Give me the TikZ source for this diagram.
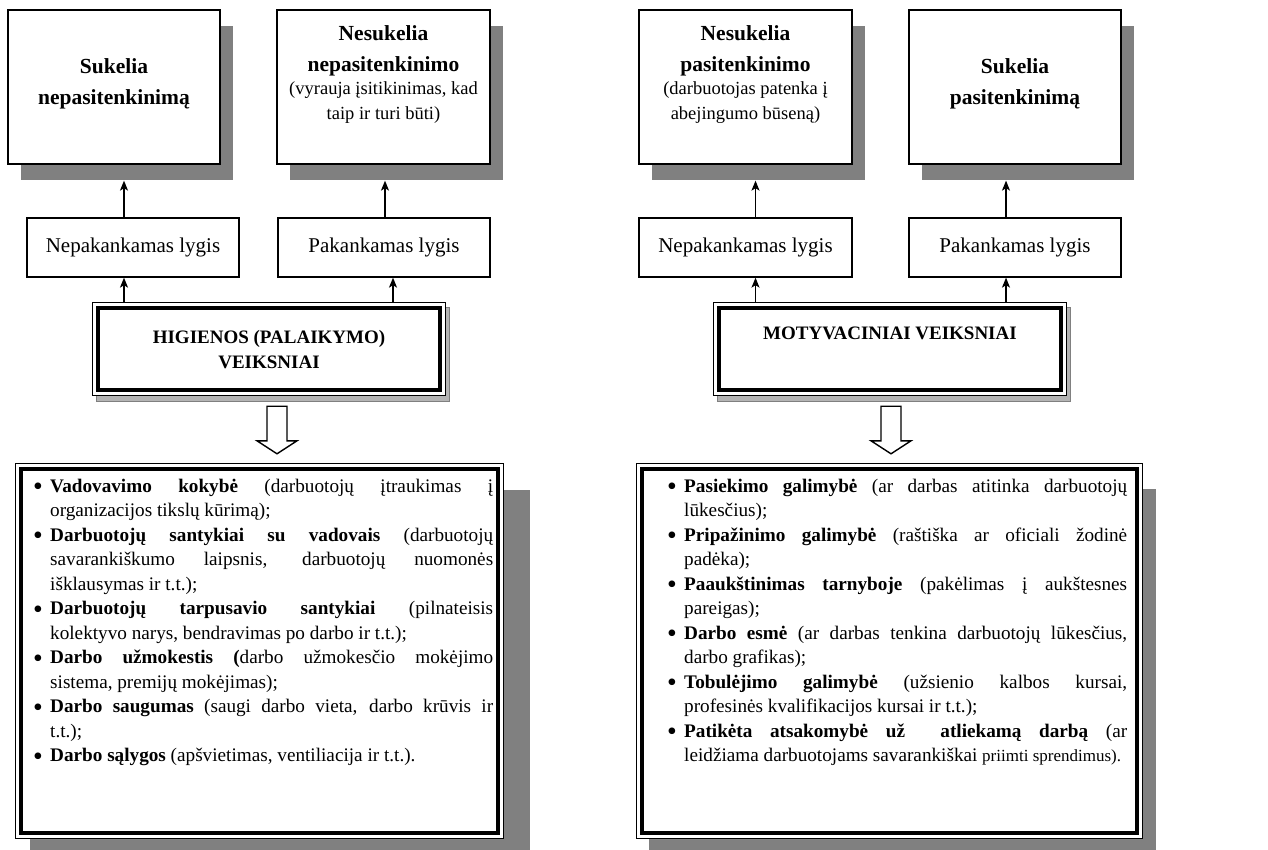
\documentclass[tikz,border=0pt]{standalone}
\usepackage{graphicx}
\usepackage{fontspec}
\setmainfont{Liberation Serif}
\usetikzlibrary{calc,arrows.meta,shadows,backgrounds}

\definecolor{shadowgray}{HTML}{808080}
\definecolor{lightshadow}{HTML}{B4B4B4}

% list helpers: bullet column, hanging indent, justified line
\newcommand\listbullet{\makebox[17pt][l]{\raisebox{-3.6pt}{\scalebox{1.45}{\textbullet}}}}
\newcommand\listindent{\hspace*{17pt}}
\newcommand\justline[1]{\makebox[443pt][s]{#1}}

% thin outer line + thick inner line
\newcommand\thickthin[1]{%
  \draw[line width=1pt] (#1.north west) rectangle (#1.south east);
  \draw[line width=4.5pt] ($(#1.north west)+(5,5)$) rectangle ($(#1.south east)+(-5,-5)$);
}

\tikzset{
  resultbox/.style={draw, line width=1.3pt, fill=white, minimum width=212pt,
    minimum height=154pt, inner sep=0pt,
    drop shadow={shadow xshift=12.5pt, shadow yshift=-16pt, fill=shadowgray, opacity=1}},
  levelbox/.style={draw, line width=1.3pt, fill=white, minimum width=212pt,
    minimum height=59pt, inner sep=0pt, font=\fontsize{21}{25}\selectfont},
  factorbox/.style={fill=white, minimum width=352pt, minimum height=92pt, inner sep=0pt},
  listbox/.style={fill=white, minimum height=374pt, inner sep=0pt},
  headtext/.style={align=center, inner sep=0pt, anchor=north,
    font=\fontsize{21.5}{31}\selectfont\bfseries},
  notetext/.style={align=center, inner sep=0pt, anchor=north,
    font=\fontsize{18.5}{25}\selectfont},
  factortext/.style={align=center, inner sep=0pt, anchor=north,
    font=\fontsize{19}{25}\selectfont\bfseries},
  listtext/.style={anchor=base west, inner sep=0pt},
  arr/.style={-{Stealth[length=10pt,width=8pt,inset=2.5pt]}, line width=1.3pt},
  hollow/.style={draw, fill=white, line width=1.4pt, line join=miter},
}

\begin{document}
\begin{tikzpicture}[x=1pt,y=-1pt]
\begin{scope}[on background layer]
  \fill[white] (0,0) rectangle (1268,850);
\end{scope}
\useasboundingbox (0,0) rectangle (1268,850);

% ---- result boxes (top row) ----
\node[resultbox] (B1) at (114,87) {};
\node[resultbox, minimum width=213pt] (B2) at (383.5,87) {};
\node[resultbox, minimum width=213pt] (B3) at (745.5,87) {};
\node[resultbox] (B4) at (1015,87) {};

\node[headtext] (B1h) at ($(B1.north)+(0,49)$) {Sukelia\\nepasitenkinimą};
\node[headtext] (B2h) at ($(B2.north)+(0,16)$) {Nesukelia\\nepasitenkinimo};
\node[notetext] (B2n) at ($(B2.north)+(0,72)$) {(vyrauja įsitikinimas, kad\\taip ir turi būti)};
\node[headtext] (B3h) at ($(B3.north)+(0,16)$) {Nesukelia\\pasitenkinimo};
\node[notetext] (B3n) at ($(B3.north)+(0,72)$) {(darbuotojas patenka į\\abejingumo būseną)};
\node[headtext] (B4h) at ($(B4.north)+(0,49)$) {Sukelia\\pasitenkinimą};

% ---- level boxes ----
\node[levelbox] (M1) at (133,247.5) {Nepakankamas lygis};
\node[levelbox] (M2) at (384,247.5) {Pakankamas lygis};
\node[levelbox, minimum width=213pt] (M3) at (745.5,247.5) {Nepakankamas lygis};
\node[levelbox] (M4) at (1015,247.5) {Pakankamas lygis};

% ---- factor groups ----
\node[factorbox] (H) at (269,349) {};
\node[factorbox] (M) at (890,349) {};
\thickthin{H}
\thickthin{M}
\node[factortext] (Ht) at ($(H.north)+(0,27)$) {HIGIENOS (PALAIKYMO)\\VEIKSNIAI};
\node[factortext] (Mt) at ($(M.north)+(0,24)$) {MOTYVACINIAI VEIKSNIAI};

% ---- factor lists ----
\node[listbox, minimum width=487pt] (L) at (259.5,651) {};
\node[listbox, minimum width=505pt] (R) at (889.5,651) {};
\thickthin{L}
\thickthin{R}

\node[listtext] (Lt) at (33,492) {\parbox[t]{460pt}{\fontsize{19.2}{24.5}\selectfont
\listbullet\justline{\textbf{Vadovavimo kokybė} (darbuotojų įtraukimas į}\\
\listindent organizacijos tikslų kūrimą);\\
\listbullet\justline{\textbf{Darbuotojų santykiai su vadovais} (darbuotojų}\\
\listindent\justline{savarankiškumo laipsnis, darbuotojų nuomonės}\\
\listindent išklausymas ir t.t.);\\
\listbullet\justline{\textbf{Darbuotojų tarpusavio santykiai} (pilnateisis}\\
\listindent kolektyvo narys, bendravimas po darbo ir t.t.);\\
\listbullet\justline{\textbf{Darbo užmokestis (}darbo užmokesčio mokėjimo}\\
\listindent sistema, premijų mokėjimas);\\
\listbullet\justline{\textbf{Darbo saugumas} (saugi darbo vieta, darbo krūvis ir}\\
\listindent t.t.);\\
\listbullet\textbf{Darbo sąlygos} (apšvietimas, ventiliacija ir t.t.).}};

\node[listtext] (Rt) at (667,492) {\parbox[t]{460pt}{\fontsize{19.2}{24.5}\selectfont
\listbullet\justline{\textbf{Pasiekimo galimybė} (ar darbas atitinka darbuotojų}\\
\listindent lūkesčius);\\
\listbullet\justline{\textbf{Pripažinimo galimybė} (raštiška ar oficiali žodinė}\\
\listindent padėka);\\
\listbullet\justline{\textbf{Paaukštinimas tarnyboje} (pakėlimas į aukštesnes}\\
\listindent pareigas);\\
\listbullet\justline{\textbf{Darbo esmė} (ar darbas tenkina darbuotojų lūkesčius,}\\
\listindent darbo grafikas);\\
\listbullet\justline{\textbf{Tobulėjimo galimybė} (užsienio kalbos kursai,}\\
\listindent profesinės kvalifikacijos kursai ir t.t.);\\
\listbullet\justline{\textbf{Patikėta atsakomybė už\ \ atliekamą darbą} (ar}\\
\listindent leidžiama darbuotojams savarankiškai {\fontsize{17}{24}\selectfont priimti sprendimus).}}};

% ---- shadows behind the framed boxes ----
\begin{scope}[on background layer]
  \fill[lightshadow] ($(H.north west)+(4,5)$) rectangle ($(H.south east)+(4,6)$);
  \draw[shadowgray, line width=1.2pt] ($(H.north west)+(4,5)$) rectangle ($(H.south east)+(4,6)$);
  \fill[lightshadow] ($(M.north west)+(4,5)$) rectangle ($(M.south east)+(4,6)$);
  \draw[shadowgray, line width=1.2pt] ($(M.north west)+(4,5)$) rectangle ($(M.south east)+(4,6)$);
  \fill[shadowgray] ($(L.north west)+(14,26)$) rectangle ($(L.south east)+(27,40)$);
  \fill[shadowgray] ($(R.north west)+(12,25)$) rectangle ($(R.south east)+(14,40)$);
\end{scope}

% ---- connectors: factor group -> level -> result ----
\coordinate (x1) at ($(M1.south)+(-9,0)$);
\coordinate (x2) at ($(M2.south)+(9,0)$);
\coordinate (x2b) at ($(M2.north)+(1,0)$);
\coordinate (x3) at ($(M3.south)+(10,0)$);
\coordinate (x4) at ($(M4.south)+(-9,0)$);

\draw[arr] (x1 |- H.north) -- (x1);
\draw[arr] (x2 |- H.north) -- (x2);
\draw[arr] (x3 |- M.north) -- (x3);
\draw[arr] (x4 |- M.north) -- (x4);

\draw[arr] (x1 |- M1.north) -- ($(x1 |- B1.south)+(0,16)$);
\draw[arr] (x2b) -- ($(x2b |- B2.south)+(0,16)$);
\draw[arr] (x3 |- M3.north) -- ($(x3 |- B3.south)+(0,16)$);
\draw[arr] (x4 |- M4.north) -- ($(x4 |- B4.south)+(0,16)$);

% ---- hollow arrows: factor group -> its list ----
\coordinate (hs) at ($(H.south)+(8,11)$);
\coordinate (ht) at ($(hs |- L.north)+(0,-10)$);
\draw[hollow] ($(hs)+(-10,0)$) -- ($(hs)+(10,0)$) -- ($(ht)+(10,-13)$) -- ($(ht)+(20,-13)$)
  -- (ht) -- ($(ht)+(-20,-13)$) -- ($(ht)+(-10,-13)$) -- cycle;
\coordinate (ms) at ($(M.south)+(1,11)$);
\coordinate (mt) at ($(ms |- R.north)+(0,-10)$);
\draw[hollow] ($(ms)+(-10,0)$) -- ($(ms)+(10,0)$) -- ($(mt)+(10,-13)$) -- ($(mt)+(20,-13)$)
  -- (mt) -- ($(mt)+(-20,-13)$) -- ($(mt)+(-10,-13)$) -- cycle;
\end{tikzpicture}
\end{document}
